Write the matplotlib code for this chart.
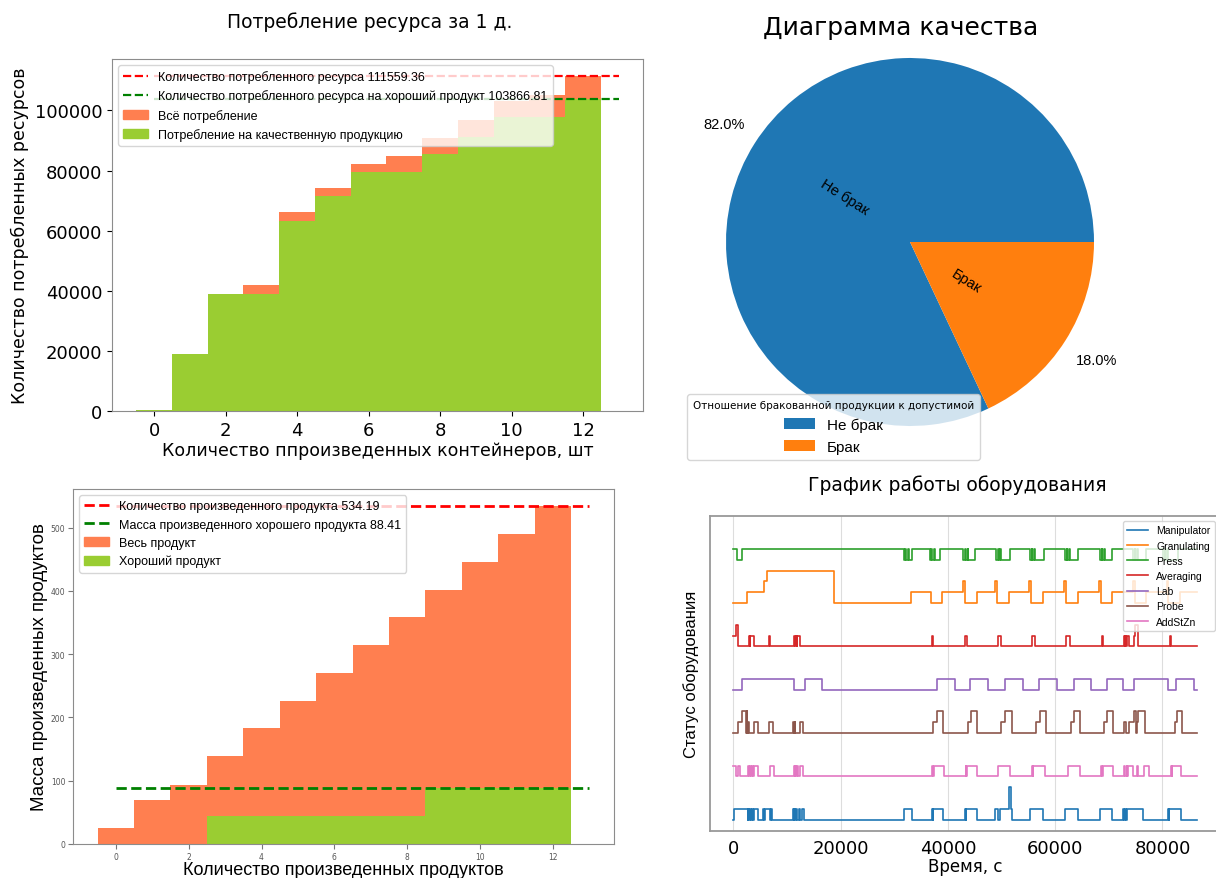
import numpy as np
import matplotlib
matplotlib.use("Agg")
import matplotlib.pyplot as plt
from matplotlib.patches import Patch
from matplotlib.lines import Line2D

# ---------------- data: resource consumption ----------------
containers = list(range(13))
res_total = [300, 19100, 39100, 41900, 66200, 74300, 82100, 84800, 90800,
             96900, 103100, 105300, 111559.36]
res_good = [300, 19100, 39100, 39100, 63300, 71700, 79600, 79600, 85600,
            91300, 97800, 97800, 103866.81]
res_total_sum = 111559.36
res_good_sum = 103866.81

# ---------------- data: quality pie ----------------
pie_labels = ["Не брак", "Брак"]
pie_shares = [82.0, 18.0]

# ---------------- data: produced mass ----------------
products = list(range(13))
mass_total = [25, 69, 94, 139, 183, 226, 270, 314, 358, 402, 445, 490, 534.19]
mass_good = [0, 0, 0, 44.2, 44.2, 44.2, 44.2, 44.2, 44.2, 88.41, 88.41, 88.41, 88.41]
mass_total_sum = 534.19
mass_good_sum = 88.41

# ---------------- data: equipment status (time, state) ----------------
manipulator = [(0, 0), (200, 1), (2700, 0), (2850, 1), (3000, 0), (3200, 1), (3350, 0), (3550, 1),
               (3700, 0), (3900, 1), (4700, 0), (5500, 1), (5700, 0), (5900, 1), (6800, 0), (7000, 1),
               (7200, 0), (11100, 1), (11250, 0), (11400, 1), (11550, 0), (11700, 1), (11850, 0),
               (12300, 1), (12450, 0), (12800, 1), (13200, 0), (31800, 1), (33300, 0),
               (37000, 1), (37150, 0), (37250, 1), (39100, 0), (43200, 1), (43350, 0), (43450, 1),
               (45400, 0), (48700, 1), (49300, 0), (49650, 1), (51450, 3), (51700, 1), (51950, 0),
               (55300, 1), (57700, 0), (61850, 1), (64200, 0), (68350, 1), (70550, 0),
               (72700, 1), (72850, 0), (73000, 1), (73150, 0), (73300, 1), (76400, 0),
               (81000, 1), (81150, 0), (81300, 1), (83500, 0), (86400, 0)]
granulating = [(0, 0), (2500, 1), (5700, 2), (6300, 3), (18700, 0), (33200, 1), (36800, 0),
               (38900, 1), (42900, 2), (43200, 0), (45400, 1), (48800, 2), (49100, 0), (51400, 1),
               (55200, 2), (55500, 0), (57700, 1), (61700, 2), (62000, 0), (64200, 1), (68200, 2),
               (68500, 0), (70600, 1), (74600, 2), (74900, 0), (77000, 1), (80800, 2), (81100, 0),
               (83300, 1), (86400, 1)]
press = [(0, 1), (700, 0), (1700, 1),
         (31800, 0), (32100, 1), (32250, 0), (32550, 1), (32700, 0), (33300, 1),
         (36600, 0), (36900, 1), (37050, 0), (37400, 1), (37550, 0), (38600, 1),
         (42900, 0), (43200, 1), (43350, 0), (43700, 1), (43850, 0), (45000, 1),
         (49000, 0), (49300, 1), (49450, 0), (49800, 1), (49950, 0), (51500, 1),
         (55300, 0), (55600, 1), (55750, 0), (56100, 1), (56250, 0), (57900, 1),
         (61850, 0), (62150, 1), (62300, 0), (62650, 1), (62800, 0), (64300, 1),
         (68350, 0), (68650, 1), (68800, 0), (69150, 1), (69300, 0), (70600, 1),
         (74500, 0), (74800, 1), (74950, 0), (75300, 1), (75450, 0), (76900, 1),
         (80100, 0), (80400, 1), (80550, 0), (80900, 1), (81050, 0), (82900, 1), (86400, 1)]
averaging = [(0, 1), (450, 2), (950, 0), (2900, 1), (3050, 0), (3150, 1), (3950, 0), (6700, 1),
             (6900, 0), (11400, 1), (11550, 0), (11650, 1), (11800, 0), (11900, 1), (12400, 0),
             (37000, 1), (37300, 0), (43250, 1), (43500, 0), (49300, 1), (49900, 0), (55700, 1),
             (56250, 0), (62100, 1), (62700, 0), (68750, 1), (68950, 0), (72800, 1), (72950, 0),
             (73050, 1), (73200, 0), (73300, 1), (73800, 0), (74700, 1), (74850, 2), (75400, 0),
             (81450, 1), (81650, 0), (86400, 0)]
lab = [(0, 0), (1700, 1), (11400, 0), (13300, 1), (16600, 0), (38000, 1), (41250, 0), (44150, 1),
       (47500, 0), (50650, 1), (54000, 0), (57000, 1), (60300, 0), (63450, 1), (66700, 0),
       (69700, 1), (72700, 0), (74750, 1), (81000, 0), (82500, 1), (85900, 0), (86400, 0)]
probe = [(0, 0), (900, 1), (1600, 2), (2300, 0), (2550, 2), (2650, 0), (2800, 1), (2950, 0),
         (3800, 1), (4700, 0), (6700, 1), (7500, 0), (11200, 1), (11350, 0), (11450, 1),
         (11600, 0), (12400, 1), (13100, 0), (37300, 1), (38000, 2), (39100, 0), (43800, 1),
         (44400, 2), (45400, 0), (50000, 1), (50700, 2), (51900, 0), (56400, 1), (57100, 2),
         (58300, 0), (62900, 1), (63500, 2), (64600, 0), (69100, 1), (69700, 2), (70800, 0),
         (72900, 1), (73150, 0), (73700, 1), (74700, 2), (75050, 0), (75200, 1), (75500, 2),
         (76700, 0), (82300, 1), (82700, 2), (83600, 0), (86400, 0)]
addstzn = [(0, 1), (500, 0), (900, 1), (1300, 0), (2800, 1), (3000, 0), (3150, 1), (3350, 0),
           (3500, 1), (3700, 0), (3850, 1), (4600, 0), (6800, 1), (7600, 0), (11300, 1),
           (11450, 0), (11600, 1), (11750, 0), (11900, 1), (12050, 0), (12500, 1), (13100, 0),
           (37100, 1), (37300, 0), (37400, 1), (39200, 0), (43300, 1), (43450, 0), (43550, 1),
           (45400, 0), (49400, 1), (51600, 0), (55700, 1), (55850, 0), (55950, 1), (58100, 0),
           (62400, 1), (64600, 0), (68600, 1), (68750, 0), (68850, 1), (70800, 0),
           (72900, 1), (73050, 0), (73300, 1), (73450, 0), (73600, 1), (74600, 0),
           (75300, 1), (75450, 0), (76500, 1), (77400, 0), (81600, 1), (81750, 0),
           (81850, 1), (83500, 0), (86400, 0)]
equipment_names = ["Manipulator", "Granulating", "Press", "Averaging", "Lab", "Probe", "AddStZn"]
equipment_series = [manipulator, granulating, press, averaging, lab, probe, addstzn]

# ---------------- layout / style ----------------
W, H = 1216, 879
ORANGE = "#FF7F50"
GREEN = "#9ACD32"
SPINE = "#8c8c8c"
LIB = ["Liberation Sans", "DejaVu Sans"]
DJ = ["DejaVu Sans"]


def box(x0, y0, x1, y1):
    return [x0 / W, 1 - y1 / H, (x1 - x0) / W, (y1 - y0) / H]


fig = plt.figure(figsize=(W / 100, H / 100), dpi=100)
fig.patch.set_facecolor("white")

# ---------- panel 1: resource consumption ----------
ax1 = fig.add_axes(box(112, 60, 643, 412))
ax1.bar(containers, res_total, width=1.0, color=ORANGE)
ax1.bar(containers, res_good, width=1.0, color=GREEN)
ax1.hlines(res_total_sum, 0, len(containers), colors="red", linestyles="--", lw=1.6)
ax1.hlines(res_good_sum, 0, len(containers), colors="green", linestyles="--", lw=1.6)
ax1.set_xticks([0, 2, 4, 6, 8, 10, 12])
ax1.tick_params(labelsize=13)
ax1.set_xlabel("Количество ппроизведенных контейнеров, шт", fontsize=12.5, family=DJ, labelpad=2)
ax1.set_ylabel("Количество потребленных ресурсов", fontsize=12.5, family=DJ, labelpad=4)
for s in ax1.spines.values():
    s.set_color(SPINE)
h1 = [Line2D([], [], color="red", ls="--", lw=1.6),
      Line2D([], [], color="green", ls="--", lw=1.6),
      Patch(color=ORANGE), Patch(color=GREEN)]
l1 = [f"Количество потребленного ресурса {res_total_sum}",
      f"Количество потребленного ресурса на хороший продукт {res_good_sum}",
      "Всё потребление", "Потребление на качественную продукцию"]
ax1.legend(h1, l1, loc="upper left", prop={"family": LIB, "size": 9})
fig.text(370 / W, 1 - 22 / H, "Потребление ресурса за 1 д.", ha="center", va="center",
         fontsize=13.5, family=DJ)

# ---------- panel 2: pie ----------
ax2 = fig.add_axes(box(910 - 230, 243 - 230, 910 + 230, 243 + 230))
wedges, texts, autotexts = ax2.pie(pie_shares, labels=pie_labels, autopct="%1.1f%%",
                                   pctdistance=1.2, labeldistance=0.25, rotatelabels=True,
                                   textprops={"fontsize": 10.5, "family": LIB})
ax2.set_xlim(-1.25, 1.25)
ax2.set_ylim(-1.25, 1.25)
ax2.set_aspect("equal")
fig.text(901 / W, 1 - 28 / H, "Диаграмма качества", ha="center", va="center",
         fontsize=18, family=DJ)
leg2 = ax2.legend(wedges, pie_labels, title="Отношение бракованной продукции к допустимой",
                  loc="upper left", bbox_to_anchor=(687 / W, 1 - 395 / H),
                  bbox_transform=fig.transFigure, borderaxespad=0,
                  prop={"family": LIB, "size": 11}, title_fontproperties={"family": DJ, "size": 7.5})

# ---------- panel 3: produced mass ----------
ax3 = fig.add_axes(box(73, 490, 614, 845))
ax3.bar(products, mass_total, width=1.0, color=ORANGE)
ax3.bar(products, mass_good, width=1.0, color=GREEN)
ax3.hlines(mass_total_sum, 0, len(products), colors="red", linestyles="--", lw=2)
ax3.hlines(mass_good_sum, 0, len(products), colors="green", linestyles="--", lw=2)
ax3.set_xticks([0, 2, 4, 6, 8, 10, 12])
ax3.tick_params(labelsize=5.5, labelcolor="#555555", colors="#777777", pad=2)
ax3.set_xlabel("Количество произведенных продуктов", fontsize=13, family=LIB, labelpad=0)
ax3.set_ylabel("Масса произведенных продуктов", fontsize=13.5, family=LIB, labelpad=2)
for s in ax3.spines.values():
    s.set_color(SPINE)
h3 = [Line2D([], [], color="red", ls="--", lw=2),
      Line2D([], [], color="green", ls="--", lw=2),
      Patch(color=ORANGE), Patch(color=GREEN)]
l3 = [f"Количество произведенного продукта {mass_total_sum}",
      f"Масса произведенного хорошего продукта {mass_good_sum}",
      "Весь продукт", "Хороший продукт"]
ax3.legend(h3, l3, loc="upper left", prop={"family": LIB, "size": 9})

# ---------- panel 4: equipment ----------
ax4 = fig.add_axes(box(710, 517, 1220, 832))
offsets = [0, 20, 24, 16, 12, 8, 4]
for name, series, off in zip(equipment_names, equipment_series, offsets):
    t = [p[0] for p in series]
    s = [p[1] + off for p in series]
    ax4.step(t, s, where="post", lw=1.2, label=name)
ax4.set_ylim(-1.05, 28.05)
ax4.set_yticks([])
ax4.set_xticks([0, 20000, 40000, 60000, 80000])
ax4.grid(axis="x", color="#dddddd", lw=0.8)
ax4.tick_params(labelsize=13, length=0, pad=6)
ax4.set_xlabel("Время, с", fontsize=12, family=DJ, labelpad=0)
ax4.set_ylabel("Статус оборудования", fontsize=12, family=LIB, labelpad=8)
for s in ax4.spines.values():
    s.set_color("#999999")
    s.set_linewidth(1.3)
ax4.legend(loc="upper right", prop={"family": LIB, "size": 7.5})
fig.text(957 / W, 1 - 485 / H, "График работы оборудования", ha="center", va="center",
         fontsize=13.5, family=DJ)

fig.savefig("out.png", dpi=100)
